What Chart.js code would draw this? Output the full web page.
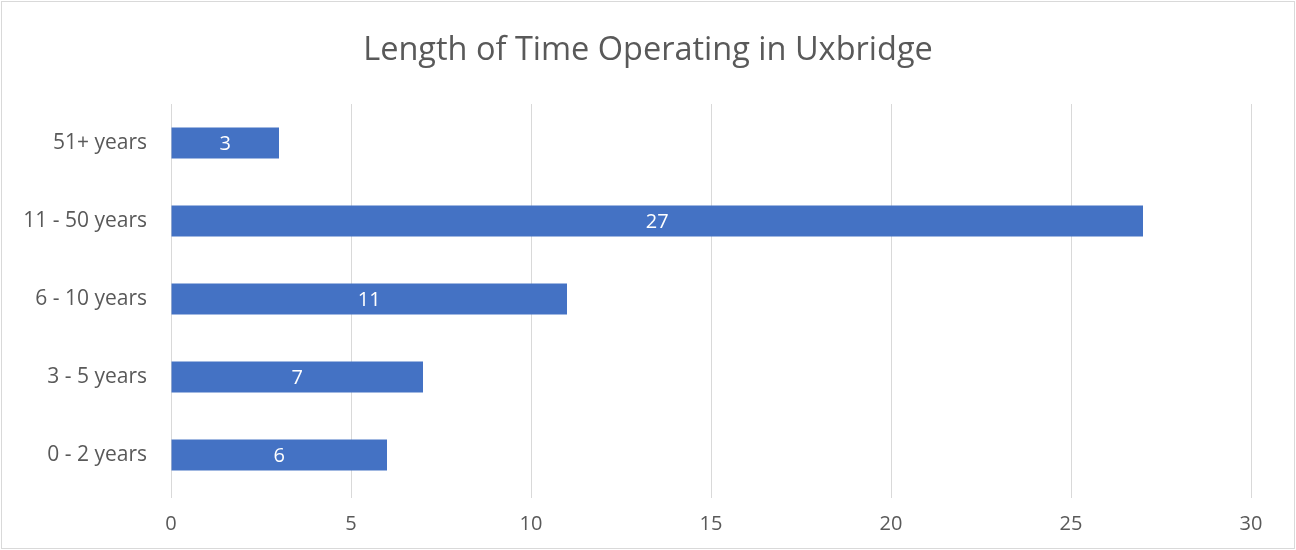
<!DOCTYPE html>
<html>
<head>
<meta charset="utf-8">
<script src="https://cdn.jsdelivr.net/npm/chart.js@4"></script>
<style>
  html, body { margin: 0; padding: 0; background: #fff; }
  #wrap { width: 1296px; height: 550px; position: relative; }
</style>
</head>
<body>
<div id="wrap"><canvas id="barChart"></canvas></div>
<script>
const categories = ['51+ years', '11 - 50 years', '6 - 10 years', '3 - 5 years', '0 - 2 years'];
const counts = [3, 27, 11, 7, 6];
const xTicks = [0, 5, 10, 15, 20, 25, 30];

const textColor = '#595959';
const fontFamily = '"Open Sans", Lato, sans-serif';

// white value labels inside the bars
const barLabels = {
	id: 'barLabels',
	afterDatasetsDraw(chart) {
		const ctx = chart.ctx;
		const meta = chart.getDatasetMeta(0);
		ctx.save();
		ctx.fillStyle = '#ffffff';
		ctx.font = '20px ' + fontFamily;
		ctx.textAlign = 'center';
		ctx.textBaseline = 'middle';
		meta.data.forEach(function (bar, i) {
			const x = (bar.x + bar.base) / 2;
			ctx.fillText(String(counts[i]), x, bar.y + 1);
		});
		ctx.restore();
	}
};

// thin frame around the whole chart, title centred on the full width
const frame = {
	id: 'frame',
	afterLayout(chart) {
		if (chart.titleBlock) {
			chart.titleBlock.left = 0;
			chart.titleBlock.right = chart.width;
		}
	},
	beforeDraw(chart) {
		const ctx = chart.ctx;
		ctx.save();
		ctx.fillStyle = '#fff';
		ctx.fillRect(0, 0, chart.width, chart.height);
		ctx.strokeStyle = '#d9d9d9';
		ctx.lineWidth = 1;
		ctx.strokeRect(1.5, 1.5, chart.width - 3, chart.height - 3);
		ctx.restore();
	}
};

document.addEventListener('DOMContentLoaded', function () {
	const ctx = document.getElementById('barChart').getContext('2d');
	new Chart(ctx, {
		type: 'bar',
		data: {
			labels: categories,
			datasets: [{
				data: counts,
				backgroundColor: '#4472C4',
				borderWidth: 0,
				barPercentage: 0.4,
				categoryPercentage: 1.0
			}]
		},
		options: {
			indexAxis: 'y',
			responsive: true,
			maintainAspectRatio: false,
			animation: false,
			layout: { padding: { left: 0, right: 45, top: 0, bottom: 10 } },
			plugins: {
				legend: { display: false },
				tooltip: { enabled: false },
				title: {
					display: true,
					text: 'Length of Time Operating in Uxbridge',
					color: textColor,
					font: { family: fontFamily, size: 32.5, weight: 'normal' },
					padding: { top: 31, bottom: 34 }
				}
			},
			scales: {
				x: {
					min: 0,
					max: 30,
					afterBuildTicks: function (scale) {
						scale.ticks = xTicks.map(v => ({ value: v }));
					},
					afterFit: function (scale) { scale.height = 46; },
					grid: { color: '#d9d9d9', drawTicks: true, tickLength: 4 },
					border: { display: false },
					ticks: {
						color: textColor,
						padding: 14,
						font: { family: fontFamily, size: 20 }
					}
				},
				y: {
					afterFit: function (scale) { scale.width = 171; },
					grid: { display: false, drawTicks: false },
					border: { display: false },
					ticks: {
						color: textColor,
						padding: 24,
						font: { family: fontFamily, size: 21 }
					}
				}
			}
		},
		plugins: [frame, barLabels]
	});
});
</script>
</body>
</html>
